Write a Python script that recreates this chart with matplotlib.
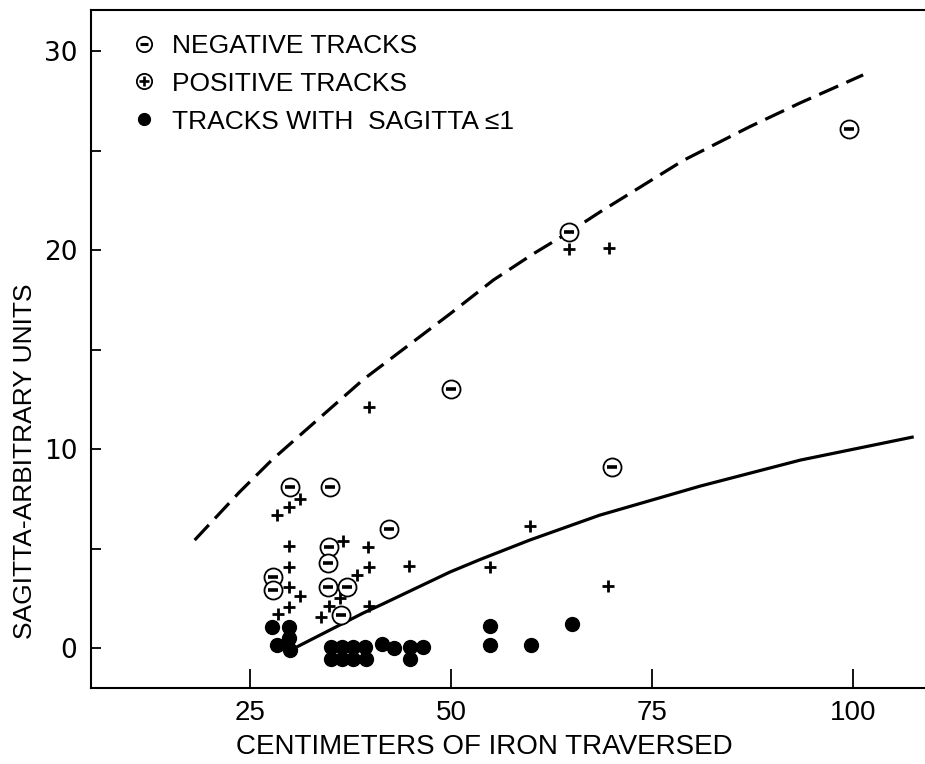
import matplotlib
matplotlib.use("Agg")
import matplotlib.pyplot as plt
from matplotlib.lines import Line2D
from matplotlib.legend_handler import HandlerTuple

plt.rcParams['font.family'] = ['Liberation Sans', 'DejaVu Sans']

# negative tracks (circled minus)
neg_x = [64.7, 99.6, 50.0, 70.0, 30.0, 34.9, 42.3, 34.8, 34.7, 27.8, 27.9, 34.7, 37.0, 36.3]
neg_y = [20.9, 26.1, 13.0, 9.1, 8.1, 8.1, 6.0, 5.06, 4.26, 3.6, 2.9, 3.08, 3.08, 1.66]

# positive tracks (plus)
pos_x = [31.2, 29.9, 28.4, 29.9, 36.6, 39.7, 29.9, 39.8, 44.8, 38.3, 29.9, 31.2, 36.2,
         29.9, 34.8, 39.8, 28.5, 33.8, 39.8, 54.9, 59.8, 69.6, 64.7, 69.7]
pos_y = [7.47, 7.1, 6.68, 5.13, 5.38, 5.09, 4.09, 4.09, 4.12, 3.67, 3.08, 2.61, 2.53,
         2.08, 2.13, 2.13, 1.71, 1.57, 12.1, 4.09, 6.13, 3.13, 20.05, 20.1]

# tracks with sagitta <= 1 (dots)
dot_x = [27.7, 29.9, 29.9, 28.3, 29.95, 35.1, 35.1, 36.4, 36.4, 37.8, 37.8, 39.3, 39.4,
         41.4, 42.9, 44.9, 44.9, 46.5, 54.8, 54.9, 60.0, 65.1]
dot_y = [1.07, 1.07, 0.49, 0.15, -0.07, 0.07, -0.52, 0.07, -0.52, 0.07, -0.52, 0.07, -0.55,
         0.2, 0.02, 0.07, -0.52, 0.07, 1.1, 0.15, 0.15, 1.19]

# upper (dashed) and lower (solid) curves
dash_x = [18.1, 23.7, 27.7, 29.1, 39.1, 49.9, 55.3, 60.2, 64.7, 68.5, 78.9, 87.2, 93.5, 101.3]
dash_y = [5.43, 7.85, 9.45, 9.95, 13.5, 16.8, 18.5, 19.8, 20.9, 21.9, 24.5, 26.2, 27.4, 28.8]
solid_x = [31.0, 39.1, 41.2, 49.9, 53.6, 59.8, 68.5, 81.0, 93.5, 107.4]
solid_y = [0.1, 1.77, 2.16, 3.83, 4.45, 5.43, 6.68, 8.14, 9.45, 10.6]

fig = plt.figure(figsize=(9.25, 7.64), dpi=100)
ax = fig.add_axes([0.0984, 0.0995, 0.9016, 0.8874])

ax.plot(dash_x, dash_y, color='black', lw=2.3, dashes=(6.5, 2.8), zorder=2)
ax.plot(solid_x, solid_y, color='black', lw=2.3, zorder=2)

ax.plot(dot_x, dot_y, 'o', ms=10, color='black', zorder=3)
ax.plot(pos_x, pos_y, '+', ms=9, mew=2.0, color='black', zorder=3)
ax.plot(neg_x, neg_y, 'o', ms=13, mfc='white', mec='black', mew=1.3, zorder=4)
ax.plot(neg_x, neg_y, '_', ms=7, mew=2.6, color='black', zorder=5)

ax.set_xlim(5.2, 109)
ax.set_ylim(-2.0, 32.06)

ax.set_xticks([25, 50, 75, 100])
ax.set_yticks([0, 10, 20, 30])
ax.set_yticks([5, 15, 25], minor=True)
ax.tick_params(axis='x', direction='in', length=14, width=1.3, pad=9, labelsize=20)
ax.tick_params(axis='y', which='both', direction='in', length=7, width=1.3, pad=10, labelsize=19)
for lab in ax.get_yticklabels():
    lab.set_family('DejaVu Sans')

for s in ['left', 'bottom', 'top']:
    ax.spines[s].set_linewidth(1.5)
ax.spines['right'].set_visible(False)

ax.set_xlabel('CENTIMETERS OF IRON TRAVERSED', fontsize=20)
ax.xaxis.set_label_coords(0.472, -0.068)
ax.set_ylabel('SAGITTA-ARBITRARY UNITS', fontsize=19)
ax.yaxis.set_label_coords(-0.065, 0.335)

h_neg = (Line2D([], [], ls='', marker='o', ms=11, mfc='white', mec='black', mew=1.3),
         Line2D([], [], ls='', marker='_', ms=6, mew=2.2, color='black'))
h_pos = (Line2D([], [], ls='', marker='o', ms=11, mfc='white', mec='black', mew=1.3),
         Line2D([], [], ls='', marker='+', ms=7.5, mew=1.9, color='black'))
h_dot = Line2D([], [], ls='', marker='o', ms=8.5, color='black')

ax.legend([h_neg, h_pos, h_dot],
          ['NEGATIVE TRACKS', 'POSITIVE TRACKS', 'TRACKS WITH  SAGITTA \u22641'],
          handler_map={tuple: HandlerTuple(ndivide=1, pad=0)},
          loc='upper left', bbox_to_anchor=(0.051, 0.965), frameon=False,
          fontsize=19, handlelength=0.8, handletextpad=0.66, labelspacing=0.53,
          borderpad=0, borderaxespad=0, numpoints=1)

fig.savefig('out.png', dpi=100)
